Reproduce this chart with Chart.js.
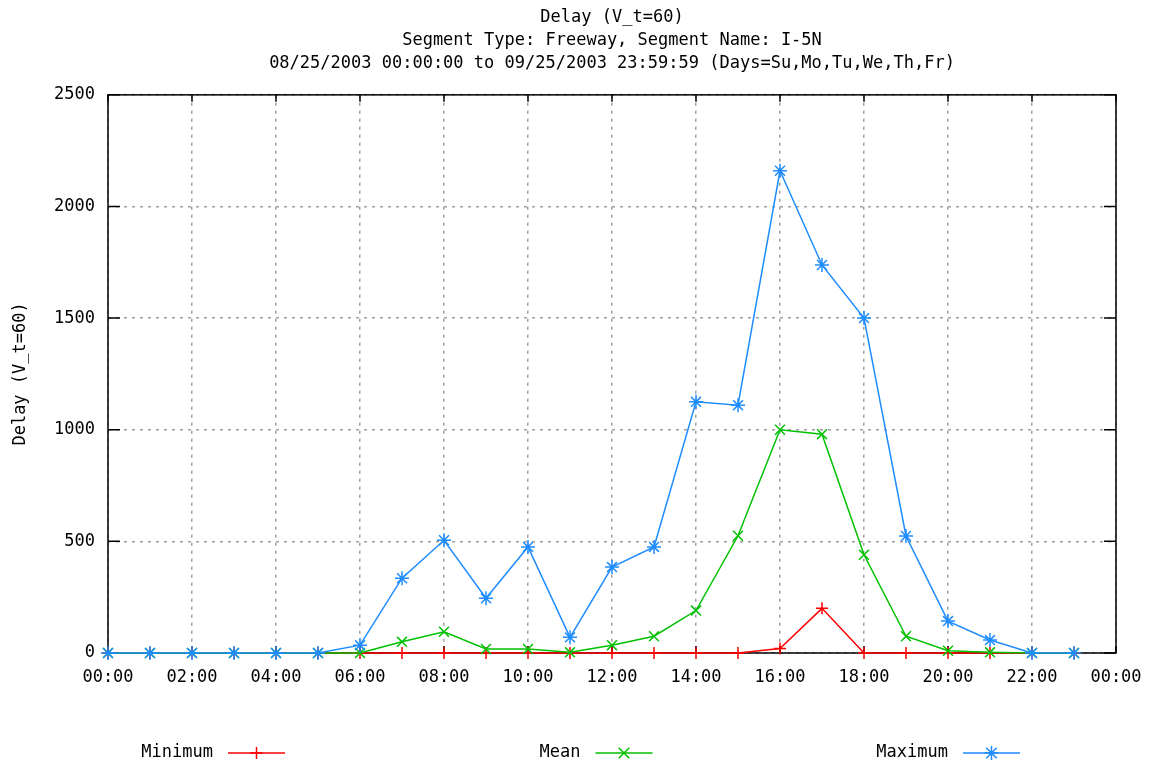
<!DOCTYPE html>
<html>
<head>
<meta charset="utf-8">
<script src="https://cdn.jsdelivr.net/npm/chart.js@4/dist/chart.umd.min.js"></script>
<style>
  html, body { margin: 0; padding: 0; background: #fff; }
  #wrap { width: 1149px; height: 769px; }
</style>
</head>
<body>
<div id="wrap"><canvas id="chartDelay"></canvas></div>
<script>
const hours = [0, 1, 2, 3, 4, 5, 6, 7, 8, 9, 10, 11, 12, 13, 14, 15, 16, 17, 18, 19, 20, 21, 22, 23];
const minimumDelay = [0, 0, 0, 0, 0, 0, 0, 0, 0, 0, 0, 0, 0, 0, 0, 0, 20, 200, 0, 0, 0, 0, 0, 0];
const meanDelay = [0, 0, 0, 0, 0, 0, 0, 50, 95, 18, 18, 3, 35, 75, 190, 525, 1000, 980, 440, 75, 10, 3, 0, 0];
const maximumDelay = [0, 0, 0, 0, 0, 0, 35, 335, 505, 245, 475, 70, 385, 475, 1125, 1110, 2160, 1738, 1500, 524, 143, 58, 0, 0];
const titleLines = [
    "Delay (V_t=60)",
    "Segment Type: Freeway, Segment Name: I-5N",
    "08/25/2003 00:00:00 to 09/25/2003 23:59:59 (Days=Su,Mo,Tu,We,Th,Fr)"
];

const FONT = "'DejaVu Sans Mono', 'Liberation Mono', monospace";

function pts(values) {
    return hours.map((h, i) => ({ x: h, y: values[i] }));
}

function pad2(n) {
    return (n < 10 ? "0" : "") + n;
}

// border box + inward tick marks like gnuplot
const framePlugin = {
    id: "frame",
    beforeDatasetsDraw(chart) {
        const { ctx, chartArea: a, scales } = chart;
        ctx.save();
        ctx.strokeStyle = "#000";
        ctx.lineWidth = 1.5;
        ctx.strokeRect(a.left, a.top, a.right - a.left, a.bottom - a.top);
        ctx.beginPath();
        scales.x.ticks.forEach(t => {
            const px = scales.x.getPixelForValue(t.value);
            ctx.moveTo(px, a.bottom); ctx.lineTo(px, a.bottom - 7);
            ctx.moveTo(px, a.top); ctx.lineTo(px, a.top + 7);
        });
        scales.y.ticks.forEach(t => {
            const py = scales.y.getPixelForValue(t.value);
            ctx.moveTo(a.left, py); ctx.lineTo(a.left + 12, py);
            ctx.moveTo(a.right, py); ctx.lineTo(a.right - 12, py);
        });
        ctx.stroke();
        ctx.restore();
    }
};

function drawMarker(ctx, style, x, y, r) {
    ctx.beginPath();
    if (style === "cross" || style === "star") {
        ctx.moveTo(x - r, y); ctx.lineTo(x + r, y);
        ctx.moveTo(x, y - r); ctx.lineTo(x, y + r);
    }
    if (style === "crossRot" || style === "star") {
        const d = r * 0.75;
        ctx.moveTo(x - d, y - d); ctx.lineTo(x + d, y + d);
        ctx.moveTo(x - d, y + d); ctx.lineTo(x + d, y - d);
    }
    ctx.stroke();
}

// gnuplot style key: text right aligned, then the sample line
const keyPlugin = {
    id: "gnuKey",
    afterDraw(chart) {
        const { ctx } = chart;
        const y = 753;
        ctx.save();
        ctx.font = "17px " + FONT;
        ctx.textBaseline = "middle";
        ctx.textAlign = "right";
        chart.data.datasets.forEach((ds, i) => {
            const xr = 213 + 367.5 * i;
            ctx.fillStyle = "#000";
            ctx.fillText(ds.label, xr, y);
            ctx.strokeStyle = ds.borderColor;
            ctx.lineWidth = 1.5;
            ctx.beginPath();
            ctx.moveTo(xr + 15, y); ctx.lineTo(xr + 72, y);
            ctx.stroke();
            drawMarker(ctx, ds.pointStyle, xr + 43.5, y, ds.pointRadius);
        });
        ctx.restore();
    }
};

const ctx = document.getElementById("chartDelay");

new Chart(ctx, {
    type: "line",
    data: {
        datasets: [
            {
                label: "Minimum",
                data: pts(minimumDelay),
                borderColor: "#ff0000",
                backgroundColor: "#ff0000",
                pointStyle: "cross",
                pointRadius: 6,
                borderWidth: 1.5,
                pointBorderWidth: 1.5,
                clip: false,
                order: 3,
            },
            {
                label: "Mean",
                data: pts(meanDelay),
                borderColor: "#00c000",
                backgroundColor: "#00c000",
                pointStyle: "crossRot",
                pointRadius: 7,
                borderWidth: 1.5,
                pointBorderWidth: 1.5,
                clip: false,
                order: 2,
            },
            {
                label: "Maximum",
                data: pts(maximumDelay),
                borderColor: "#1e8cff",
                backgroundColor: "#1e8cff",
                pointStyle: "star",
                pointRadius: 7,
                borderWidth: 1.5,
                pointBorderWidth: 1.5,
                clip: false,
                order: 1,
            },
        ],
    },
    options: {
        responsive: true,
        maintainAspectRatio: false,
        animation: false,
        layout: {
            padding: { left: 0, right: 33, top: 0, bottom: 76 },
        },
        plugins: {
            legend: { display: false },
            tooltip: { enabled: false },
            title: {
                display: true,
                fullSize: false,
                text: titleLines,
                color: "#000",
                font: { family: FONT, size: 17, weight: "normal", lineHeight: 1.35 },
                padding: { top: 6, bottom: 20 },
            },
        },
        scales: {
            x: {
                type: "linear",
                min: 0,
                max: 24,
                afterFit: s => {
                    s.height = 40;
                    s.paddingLeft = 0;
                    s.paddingRight = 0;
                },
                ticks: {
                    stepSize: 2,
                    color: "#000",
                    padding: 14,
                    maxRotation: 0,
                    font: { family: FONT, size: 17 },
                    callback: v => pad2(v % 24) + ":00",
                },
                grid: { color: "#a0a0a0", lineWidth: 1.5, drawTicks: false },
                border: { display: false, dash: [3, 5] },
            },
            y: {
                min: 0,
                max: 2500,
                afterFit: s => { s.width = 108; },
                ticks: {
                    stepSize: 500,
                    color: "#000",
                    padding: 13,
                    font: { family: FONT, size: 17 },
                    callback: v => String(v),
                },
                grid: { color: "#a0a0a0", lineWidth: 1.5, drawTicks: false },
                border: { display: false, dash: [3, 5] },
                title: {
                    display: true,
                    text: "Delay (V_t=60)",
                    color: "#000",
                    font: { family: FONT, size: 17 },
                    padding: { top: 10, bottom: 0 },
                },
            },
        },
    },
    plugins: [framePlugin, keyPlugin],
});
</script>
</body>
</html>
